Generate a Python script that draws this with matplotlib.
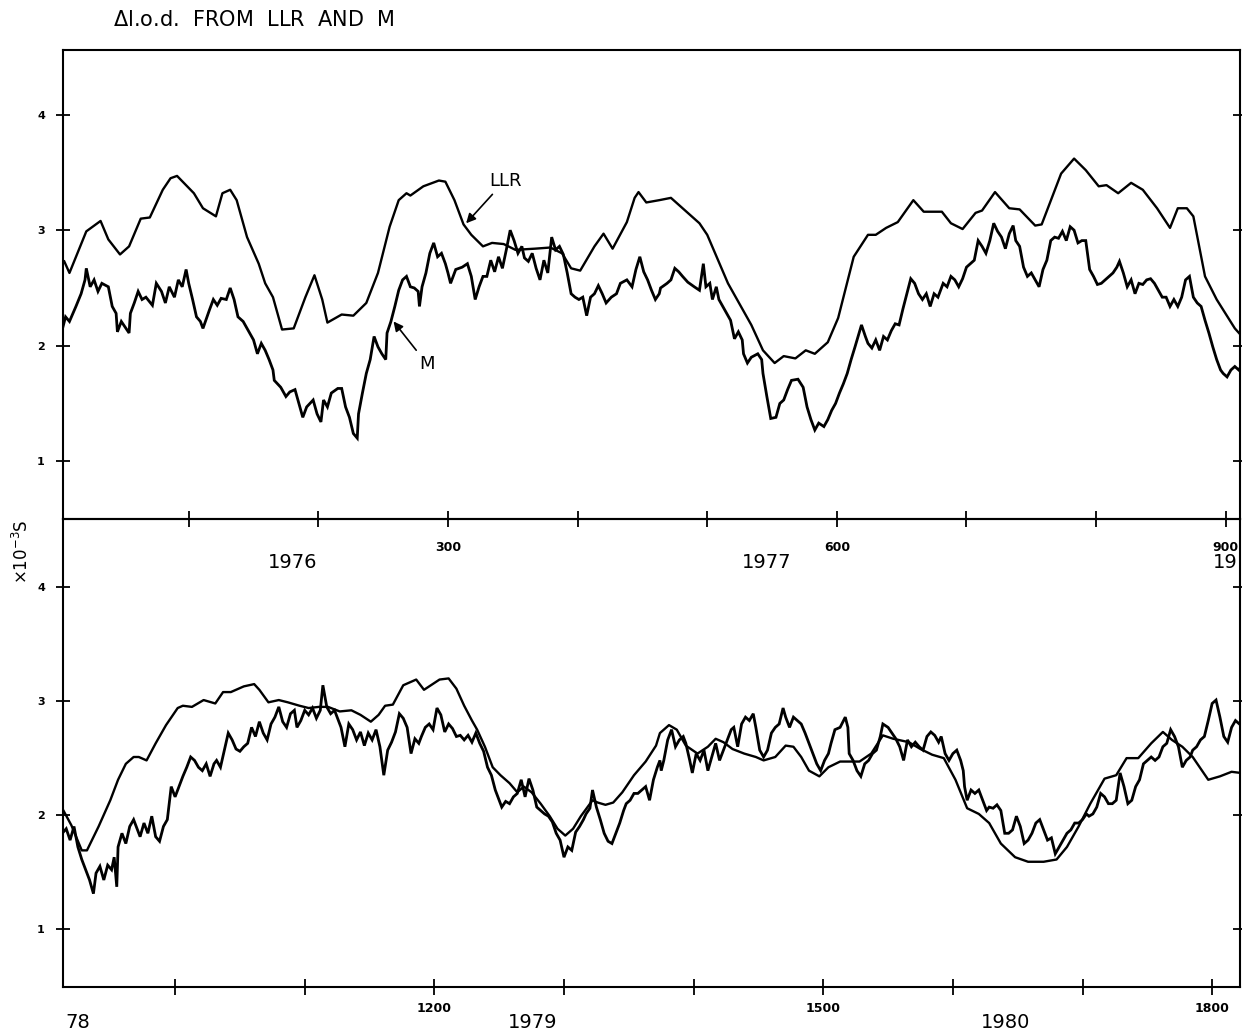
import matplotlib.pyplot as plt

# LLR length-of-day excess, day count from start of 1976 (units 1e-3 s)
llr_day = [4, 8, 21, 32, 38, 47, 54, 63, 70, 80, 86, 91, 104, 111, 121, 126, 132, 137, 145, 154,
           159, 165, 172, 181, 190, 197, 203, 207, 218, 227, 237, 246, 255, 262, 268, 271, 281, 293, 298, 305,
           312, 318, 327, 334, 343, 352, 367, 379, 388, 395, 402, 413, 420, 427, 438, 444, 447, 453, 463,
           472, 481, 494, 500, 516, 534, 543, 552, 559, 568, 576, 583, 593, 601, 613, 624, 630, 638, 647, 659,
           667, 681, 688, 697, 707, 712, 722, 733, 741, 753, 758, 773, 783, 792, 802, 808, 817, 827, 836, 847,
           857, 863, 870, 875, 884, 893, 907,
           911, 920, 928, 932, 941, 950, 956, 962, 968, 972, 978, 985, 993, 1002, 1006, 1013, 1022, 1031, 1037, 1043,
           1047, 1053, 1061, 1065, 1072, 1080, 1087, 1096, 1103, 1111, 1118, 1127, 1136, 1143, 1151, 1157, 1162, 1168,
           1176, 1186, 1192, 1196, 1204, 1211, 1217, 1223, 1229, 1233, 1239, 1245, 1251, 1258, 1264, 1269, 1275, 1282,
           1289, 1295, 1301, 1307, 1313, 1322, 1326, 1332, 1338, 1345, 1354, 1363, 1371, 1374,
           1381, 1387, 1394, 1403, 1411, 1417, 1423, 1430, 1439, 1448, 1454, 1463, 1471, 1477, 1483, 1489, 1497, 1504,
           1513, 1520, 1528, 1537, 1546, 1554, 1566, 1575, 1584, 1593, 1602, 1611, 1620, 1628, 1637, 1648, 1658, 1670,
           1680, 1688, 1697, 1706, 1717, 1726, 1734, 1743, 1753, 1762, 1769, 1777, 1785, 1797, 1806, 1815, 1822]
llr_lod = [2.73, 2.63, 2.99, 3.08, 2.92, 2.79, 2.86, 3.10, 3.11, 3.35, 3.45, 3.47, 3.32, 3.19, 3.12, 3.32, 3.35, 3.26, 2.94, 2.71,
           2.54, 2.42, 2.14, 2.15, 2.42, 2.61, 2.40, 2.20, 2.27, 2.26, 2.37, 2.63, 3.03, 3.26, 3.32, 3.30, 3.38, 3.43, 3.42, 3.26,
           3.05, 2.96, 2.86, 2.89, 2.88, 2.83, 2.84, 2.85, 2.80, 2.67, 2.65, 2.86, 2.97, 2.84, 3.07, 3.28, 3.33, 3.24, 3.26,
           3.28, 3.19, 3.06, 2.96, 2.54, 2.18, 1.96, 1.85, 1.91, 1.89, 1.96, 1.93, 2.03, 2.24, 2.77, 2.96, 2.96, 3.02, 3.07, 3.26,
           3.16, 3.16, 3.06, 3.01, 3.15, 3.17, 3.33, 3.19, 3.18, 3.04, 3.05, 3.49, 3.62, 3.52, 3.38, 3.39, 3.32, 3.41, 3.35, 3.19,
           3.02, 3.19, 3.19, 3.12, 2.60, 2.40, 2.15,
           2.10, 1.91, 1.69, 1.69, 1.90, 2.13, 2.31, 2.45, 2.51, 2.51, 2.48, 2.63, 2.79, 2.94, 2.96, 2.95, 3.01, 2.98, 3.08, 3.08,
           3.10, 3.13, 3.15, 3.10, 2.99, 3.01, 2.99, 2.96, 2.94, 2.95, 2.95, 2.91, 2.92, 2.88, 2.82, 2.88, 2.96, 2.97,
           3.14, 3.19, 3.10, 3.13, 3.19, 3.20, 3.11, 2.96, 2.83, 2.75, 2.60, 2.42, 2.35, 2.28, 2.20, 2.25, 2.20, 2.10,
           1.99, 1.88, 1.82, 1.88, 1.99, 2.13, 2.11, 2.09, 2.11, 2.20, 2.35, 2.47, 2.61, 2.72,
           2.79, 2.75, 2.61, 2.54, 2.60, 2.67, 2.64, 2.58, 2.54, 2.51, 2.48, 2.51, 2.61, 2.60, 2.51, 2.39, 2.34, 2.42,
           2.47, 2.47, 2.47, 2.54, 2.70, 2.67, 2.64, 2.58, 2.53, 2.50, 2.31, 2.06, 2.01, 1.93, 1.75, 1.63, 1.59, 1.59,
           1.61, 1.72, 1.90, 2.10, 2.32, 2.35, 2.50, 2.50, 2.63, 2.73, 2.66, 2.60, 2.51, 2.31, 2.34, 2.38, 2.37]

# M series (noisy daily values)
m_day = [2, 5, 8, 13, 17, 20, 21, 24, 27, 30, 33, 38, 41, 44, 45, 48, 51, 54, 55, 58,
         61, 64, 67, 72, 75, 79, 82, 85, 89, 92, 95, 98, 100, 103, 106, 109, 111, 116, 119, 122,
         125, 129, 132, 135, 138, 142, 147, 150, 153, 156, 159, 162, 165, 166, 171, 175, 178, 182, 185, 188,
         191, 196, 199, 202, 204, 207, 210, 215, 218, 221, 224, 227, 230, 231, 234, 237, 240, 243, 246, 249,
         252, 253, 256, 259, 262, 265, 268, 271, 274, 277, 278, 280, 283, 286, 289, 292, 295, 298, 300, 302,
         306, 311, 315, 318, 321, 324, 327, 330, 333, 336, 339, 342, 345, 348, 351, 354, 357, 359, 362, 365,
         368, 371, 374, 377, 380, 383, 386, 389, 392, 395, 398, 401, 404, 407, 410, 413, 416, 419, 422, 426,
         430, 433, 438, 442, 445, 448, 451, 454, 457, 460, 463,
         464, 469, 472, 475, 478, 481, 485, 490, 494, 497, 499, 502, 504, 507, 509, 512, 515, 518, 521, 524,
         527, 528, 531, 534, 539, 542, 543, 546, 549, 553, 556, 559, 562, 565, 570, 574, 577, 580, 583, 586,
         590, 593, 596, 599, 602, 605, 608, 611, 614, 619, 622, 624, 627, 630, 633, 636, 639, 642, 645, 648,
         651, 654, 657, 660, 663, 666, 669, 672, 675, 678, 682, 685, 688, 691, 694, 697, 700, 703, 706, 709,
         712, 715, 718, 721, 724, 727, 730, 733, 736, 738, 741, 744, 747, 750, 753, 756, 759, 762, 765, 768,
         771, 774, 777, 780, 783, 786, 789, 792, 795, 798, 801, 804, 807, 810, 813, 816, 818, 821, 824, 827,
         830, 833, 836, 839, 842, 845, 848, 851, 854, 857, 860, 863, 866, 869, 872, 875, 878, 881, 884, 887,
         890, 893, 896, 898, 901, 904, 907, 910,
         913, 916, 919, 922, 925, 928, 931, 934, 937, 939, 942, 945, 948, 951, 953, 955, 956, 959, 962, 965,
         968, 970, 973, 976, 979, 982, 985, 988, 991, 994, 997, 1000, 1003, 1006, 1009, 1012, 1015, 1018, 1021, 1024,
         1027, 1030, 1032, 1035, 1038, 1041, 1044, 1047, 1050, 1053, 1056, 1059, 1062, 1065, 1068, 1071, 1074, 1077, 1080, 1083,
         1086, 1089, 1092, 1094, 1097, 1100, 1103, 1106, 1109, 1112, 1114, 1117, 1120, 1123, 1126, 1128, 1131, 1134, 1137, 1140,
         1143, 1146, 1149, 1152, 1155, 1158, 1161, 1164, 1167, 1170, 1173, 1176, 1179, 1182, 1185, 1188, 1190, 1193, 1196, 1199,
         1202, 1205, 1208, 1211, 1214, 1217, 1220, 1223, 1226, 1229, 1232, 1235, 1238, 1241, 1244, 1247, 1250, 1252, 1255, 1258,
         1261, 1264, 1267, 1270, 1273, 1276, 1279, 1282, 1285, 1288, 1291, 1294, 1297, 1300, 1303, 1306, 1309, 1312, 1315, 1317,
         1320, 1322, 1325, 1328, 1331, 1334, 1337, 1340, 1343, 1346, 1348, 1351, 1354, 1357, 1360, 1363, 1366, 1369, 1372, 1374,
         1375, 1377, 1380, 1383, 1386, 1389, 1392, 1394, 1397, 1399, 1402, 1405, 1408, 1411, 1414, 1417, 1420, 1423, 1426, 1429,
         1431, 1434, 1437, 1440, 1443, 1446, 1448, 1451, 1454, 1457, 1460, 1463, 1466, 1469, 1471, 1474, 1477, 1480, 1483, 1486,
         1489, 1492, 1495, 1498, 1501, 1504, 1506, 1509, 1513, 1517, 1519, 1520, 1523, 1526, 1529, 1532, 1535, 1538, 1541, 1544,
         1546, 1550, 1553, 1556, 1559, 1562, 1565, 1568, 1571, 1574, 1577, 1580, 1583, 1586, 1589, 1591, 1594, 1597, 1600, 1603,
         1606, 1608, 1609, 1611, 1614, 1617, 1620, 1623, 1626, 1628, 1631, 1634, 1637, 1640, 1643, 1646, 1649, 1652, 1655, 1658,
         1661, 1664, 1667, 1670, 1673, 1676, 1679, 1682, 1685, 1688, 1691, 1694, 1697, 1700, 1703, 1705, 1708, 1711, 1714, 1717,
         1720, 1723, 1726, 1729, 1732, 1735, 1738, 1741, 1744, 1747, 1750, 1753, 1756, 1759, 1762, 1765, 1768, 1771, 1774, 1777,
         1780, 1783, 1785, 1788, 1791, 1794, 1797, 1800, 1803, 1806, 1809, 1812, 1815, 1818, 1821]
m_lod = [2.12, 2.25, 2.21, 2.34, 2.45, 2.57, 2.67, 2.51, 2.57, 2.47, 2.54, 2.51, 2.34, 2.28, 2.12, 2.21, 2.16, 2.11, 2.28, 2.37,
         2.47, 2.40, 2.42, 2.35, 2.54, 2.47, 2.37, 2.51, 2.42, 2.57, 2.51, 2.66, 2.54, 2.40, 2.25, 2.21, 2.15, 2.31, 2.40, 2.35,
         2.41, 2.40, 2.50, 2.40, 2.25, 2.21, 2.11, 2.05, 1.93, 2.02, 1.96, 1.88, 1.79, 1.70, 1.64, 1.56, 1.60, 1.62, 1.50, 1.38,
         1.47, 1.53, 1.41, 1.34, 1.53, 1.47, 1.59, 1.63, 1.63, 1.47, 1.38, 1.24, 1.20, 1.41, 1.59, 1.76, 1.88, 2.08, 1.99, 1.93,
         1.88, 2.11, 2.21, 2.34, 2.48, 2.57, 2.60, 2.51, 2.50, 2.47, 2.34, 2.51, 2.63, 2.80, 2.89, 2.77, 2.80, 2.71, 2.63, 2.54,
         2.66, 2.68, 2.71, 2.60, 2.40, 2.51, 2.60, 2.60, 2.74, 2.64, 2.77, 2.67, 2.83, 3.00, 2.91, 2.80, 2.86, 2.76, 2.73, 2.80,
         2.67, 2.57, 2.74, 2.63, 2.94, 2.83, 2.86, 2.79, 2.63, 2.45, 2.42, 2.40, 2.42, 2.26, 2.42, 2.45, 2.52, 2.45, 2.37, 2.42,
         2.45, 2.54, 2.57, 2.51, 2.66, 2.77, 2.64, 2.57, 2.48, 2.40, 2.45,
         2.50, 2.54, 2.57, 2.67, 2.64, 2.60, 2.55, 2.51, 2.48, 2.71, 2.51, 2.54, 2.40, 2.51, 2.40, 2.34, 2.28, 2.22, 2.06, 2.12,
         2.05, 1.93, 1.85, 1.90, 1.93, 1.88, 1.76, 1.56, 1.37, 1.38, 1.50, 1.53, 1.62, 1.70, 1.71, 1.64, 1.47, 1.36, 1.27, 1.33,
         1.30, 1.36, 1.44, 1.50, 1.59, 1.67, 1.76, 1.88, 1.99, 2.18, 2.08, 2.02, 1.98, 2.05, 1.96, 2.08, 2.05, 2.13, 2.19, 2.18,
         2.32, 2.45, 2.58, 2.54, 2.45, 2.40, 2.45, 2.34, 2.45, 2.42, 2.54, 2.51, 2.60, 2.57, 2.51, 2.58, 2.68, 2.71, 2.74, 2.91,
         2.86, 2.80, 2.91, 3.06, 2.99, 2.94, 2.84, 2.97, 3.04, 2.91, 2.86, 2.68, 2.60, 2.63, 2.57, 2.51, 2.66, 2.74, 2.91, 2.94,
         2.93, 2.99, 2.91, 3.03, 3.00, 2.89, 2.91, 2.91, 2.66, 2.60, 2.53, 2.54, 2.57, 2.60, 2.63, 2.68, 2.73, 2.63, 2.51, 2.57,
         2.45, 2.54, 2.53, 2.57, 2.58, 2.54, 2.48, 2.42, 2.42, 2.34, 2.40, 2.34, 2.42, 2.57, 2.60, 2.42, 2.37, 2.34, 2.22, 2.11,
         1.99, 1.88, 1.79, 1.76, 1.73, 1.79, 1.82, 1.79,
         1.84, 1.88, 1.78, 1.90, 1.72, 1.61, 1.52, 1.43, 1.31, 1.49, 1.55, 1.43, 1.56, 1.52, 1.63, 1.37, 1.72, 1.84, 1.75, 1.90,
         1.96, 1.90, 1.81, 1.93, 1.84, 1.99, 1.81, 1.77, 1.90, 1.96, 2.25, 2.16, 2.25, 2.34, 2.42, 2.51, 2.48, 2.42, 2.39, 2.45,
         2.34, 2.45, 2.48, 2.42, 2.57, 2.72, 2.66, 2.58, 2.56, 2.60, 2.63, 2.77, 2.69, 2.82, 2.72, 2.66, 2.80, 2.86, 2.95, 2.82,
         2.77, 2.89, 2.92, 2.77, 2.83, 2.92, 2.88, 2.94, 2.85, 2.92, 3.14, 2.95, 2.89, 2.92, 2.83, 2.77, 2.60, 2.80, 2.75, 2.66,
         2.73, 2.61, 2.72, 2.66, 2.75, 2.60, 2.35, 2.57, 2.64, 2.73, 2.89, 2.85, 2.77, 2.54, 2.67, 2.63, 2.69, 2.77, 2.80, 2.75,
         2.94, 2.88, 2.73, 2.80, 2.76, 2.69, 2.70, 2.66, 2.70, 2.64, 2.72, 2.63, 2.56, 2.42, 2.35, 2.22, 2.13, 2.07, 2.12, 2.10,
         2.16, 2.19, 2.31, 2.16, 2.32, 2.22, 2.07, 2.04, 2.01, 1.99, 1.94, 1.84, 1.78, 1.63, 1.72, 1.69, 1.85, 1.90, 1.96, 2.01,
         2.06, 2.22, 2.07, 1.96, 1.84, 1.77, 1.75, 1.84, 1.93, 2.04, 2.10, 2.13, 2.19, 2.19, 2.22, 2.25, 2.13, 2.31, 2.42, 2.48,
         2.39, 2.48, 2.66, 2.75, 2.60, 2.66, 2.69, 2.63, 2.48, 2.37, 2.54, 2.48, 2.57, 2.39, 2.51, 2.63, 2.48, 2.57, 2.66, 2.75,
         2.77, 2.60, 2.80, 2.86, 2.83, 2.89, 2.77, 2.57, 2.51, 2.57, 2.72, 2.77, 2.80, 2.94, 2.86, 2.77, 2.86, 2.83, 2.80, 2.72,
         2.63, 2.54, 2.45, 2.39, 2.48, 2.54, 2.63, 2.75, 2.77, 2.86, 2.77, 2.54, 2.48, 2.39, 2.34, 2.45, 2.48, 2.54, 2.57, 2.69,
         2.80, 2.77, 2.72, 2.67, 2.60, 2.48, 2.66, 2.60, 2.64, 2.60, 2.57, 2.69, 2.73, 2.70, 2.64, 2.69, 2.54, 2.48, 2.54, 2.57,
         2.48, 2.39, 2.25, 2.13, 2.22, 2.19, 2.22, 2.13, 2.04, 2.07, 2.06, 2.09, 2.04, 1.84, 1.84, 1.87, 1.99, 1.90, 1.75, 1.78,
         1.84, 1.93, 1.96, 1.87, 1.78, 1.80, 1.66, 1.72, 1.78, 1.84, 1.87, 1.93, 1.93, 1.96, 2.01, 1.99, 2.01, 2.07, 2.19, 2.16,
         2.10, 2.10, 2.13, 2.37, 2.25, 2.10, 2.13, 2.25, 2.31, 2.45, 2.48, 2.51, 2.48, 2.51, 2.60, 2.63, 2.75, 2.69, 2.60, 2.42,
         2.48, 2.51, 2.57, 2.60, 2.66, 2.69, 2.83, 2.98, 3.01, 2.86, 2.69, 2.64, 2.77, 2.83, 2.80]

# panel settings: x range, ticks and labelled ticks, year captions
panels = [
    dict(xlim=(3, 911), ticks=range(100, 901, 100), labelled=(300, 600, 900),
         years=[(180, '1976', 'center'), (546, '1977', 'center'), (909, '19', 'right')],
         year_y=-0.092, pad=10),
    dict(xlim=(913.5, 1821.5), ticks=range(1000, 1801, 100), labelled=(1200, 1500, 1800),
         years=[(915, '78', 'left'), (1276, '1979', 'center'), (1641, '1980', 'center')],
         year_y=-0.075, pad=5),
]

fig = plt.figure(figsize=(12.42, 10.33), dpi=100)
ax_top = fig.add_axes([0.0507, 0.4976, 0.9477, 0.4540])
ax_bot = fig.add_axes([0.0507, 0.0445, 0.9477, 0.4531])

for ax, p, ylim in zip([ax_top, ax_bot], panels, [(0.5, 4.56), (0.49, 4.60)]):
    # transparent backgrounds so the top panel's labels show through the lower one
    ax.patch.set_visible(False)
    ax.plot(llr_day, llr_lod, color='black', lw=1.7, solid_joinstyle='round')
    ax.plot(m_day, m_lod, color='black', lw=2.0, solid_joinstyle='miter')
    ax.set_xlim(*p['xlim'])
    ax.set_ylim(*ylim)

    ticks = list(p['ticks'])
    ax.set_xticks(ticks)
    ax.set_xticklabels([str(t) if t in p['labelled'] else '' for t in ticks],
                       fontsize=9, fontweight='bold')
    ax.set_yticks([1, 2, 3, 4])
    ax.set_yticklabels(['1', '2', '3', '4'], fontsize=8, fontweight='bold')
    ax.tick_params(axis='x', direction='inout', length=12, width=1.3, pad=p['pad'])
    ax.tick_params(axis='y', direction='inout', length=10, width=1.3, pad=8,
                   right=True)
    for s in ax.spines.values():
        s.set_linewidth(1.5)

    for x, txt, ha in p['years']:
        ax.text(x, p['year_y'], txt, transform=ax.get_xaxis_transform(),
                ha=ha, va='center', fontsize=14)

arrow = dict(arrowstyle='-|>', color='black', lw=1.2, mutation_scale=14, shrinkA=2, shrinkB=0)
ax_top.annotate('LLR', xy=(314, 3.06), xytext=(344, 3.43), ha='center', va='center',
                fontsize=13, arrowprops=arrow)
ax_top.annotate('M', xy=(258, 2.21), xytext=(284, 1.84), ha='center', va='center',
                fontsize=13, arrowprops=arrow)

fig.text(0.091, 0.981, r'$\Delta$l.o.d.  FROM  LLR  AND  M', ha='left', va='center', fontsize=15)
fig.text(0.018, 0.466, r'$\times$10$^{-3}$S', rotation=90, ha='center', va='center', fontsize=12)

fig.savefig('out.png', dpi=100)
